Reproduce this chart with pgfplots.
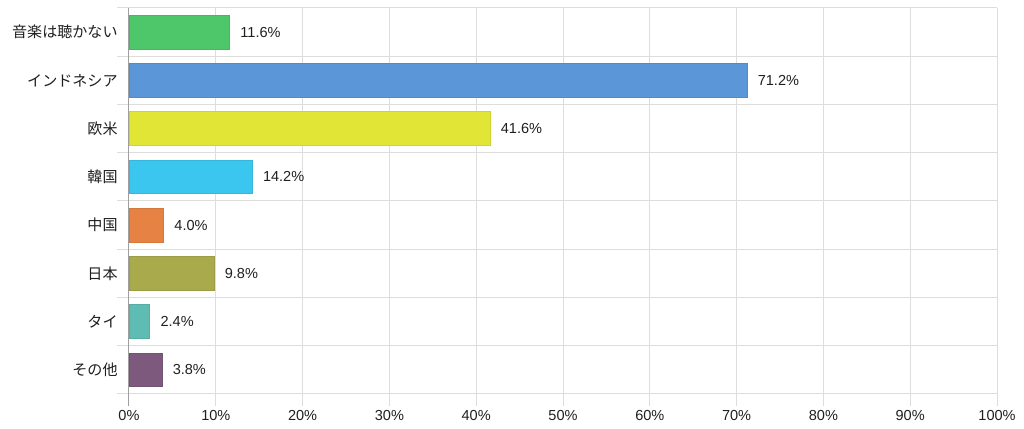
\documentclass[border=0pt]{standalone}
\usepackage{pgfplots}
\pgfplotsset{compat=1.18}
\usepackage{fontspec}
\setmainfont{Liberation Sans}
\newfontfamily\jp{Noto Sans CJK JP}
\definecolor{cA}{HTML}{4DC76A}
\definecolor{cB}{HTML}{5B96D9}
\definecolor{cC}{HTML}{E0E536}
\definecolor{cD}{HTML}{3AC6EF}
\definecolor{cE}{HTML}{E68243}
\definecolor{cF}{HTML}{A9AA4B}
\definecolor{cG}{HTML}{5FBCB2}
\definecolor{cH}{HTML}{7D5A7D}
\definecolor{gridc}{HTML}{DDDDDD}
\begin{document}
\begin{tikzpicture}
\begin{axis}[
  scale only axis,
  width=651pt, height=289.5pt,
  xmin=0, xmax=100,
  ymin=-0.5, ymax=7.5,
  xbar, bar shift=0pt, bar width=0.7,
  axis line style={draw=none},
  xtick pos=bottom, ytick pos=left,
  xtick={10,20,...,100},
  xticklabel={\pgfmathprintnumber{\tick}\%},
  extra x ticks={0},
  extra x tick labels={0\%},
  extra x tick style={grid style={draw=gray!75}, tick style={draw=gray!75}},
  ytick={-0.5,0.5,...,7.5},
  yticklabels={},
  extra y ticks={0,1,...,7},
  extra y tick labels={その他,タイ,日本,中国,韓国,欧米,インドネシア,音楽は聴かない},
  extra y tick style={grid=none, tick style={draw=none}},
  xmajorgrids, ymajorgrids,
  grid style={draw=gridc, line width=0.75pt},
  tick align=outside,
  major tick length=9pt,
  tick style={draw=gridc, line width=0.75pt},
  yticklabel style={font=\jp\fontsize{11.3}{13}\selectfont, xshift=4pt, text=black!88},
  xticklabel style={font=\fontsize{10.9}{12}\selectfont, text=black!88},
  /pgf/number format/assume math mode=true,
  point meta=x,
  nodes near coords={\pgfmathprintnumber[fixed,fixed zerofill,precision=1]{\pgfplotspointmeta}\%},
  nodes near coords style={anchor=west, xshift=4.5pt, font=\fontsize{10.9}{12}\selectfont, text=black!88},
  clip=false,
]
\addplot[fill=cA, draw=cA!92!black, line width=0.5pt] coordinates {(11.6,7)};
\addplot[fill=cB, draw=cB!92!black, line width=0.5pt] coordinates {(71.2,6)};
\addplot[fill=cC, draw=cC!92!black, line width=0.5pt] coordinates {(41.6,5)};
\addplot[fill=cD, draw=cD!92!black, line width=0.5pt] coordinates {(14.2,4)};
\addplot[fill=cE, draw=cE!92!black, line width=0.5pt] coordinates {(4.0,3)};
\addplot[fill=cF, draw=cF!92!black, line width=0.5pt] coordinates {(9.8,2)};
\addplot[fill=cG, draw=cG!92!black, line width=0.5pt] coordinates {(2.4,1)};
\addplot[fill=cH, draw=cH!92!black, line width=0.5pt] coordinates {(3.8,0)};
\end{axis}
\path ([xshift=-96.75pt,yshift=-26.25pt]current axis.south west) rectangle ([xshift=20.25pt,yshift=6pt]current axis.north east);
\end{tikzpicture}
\end{document}
